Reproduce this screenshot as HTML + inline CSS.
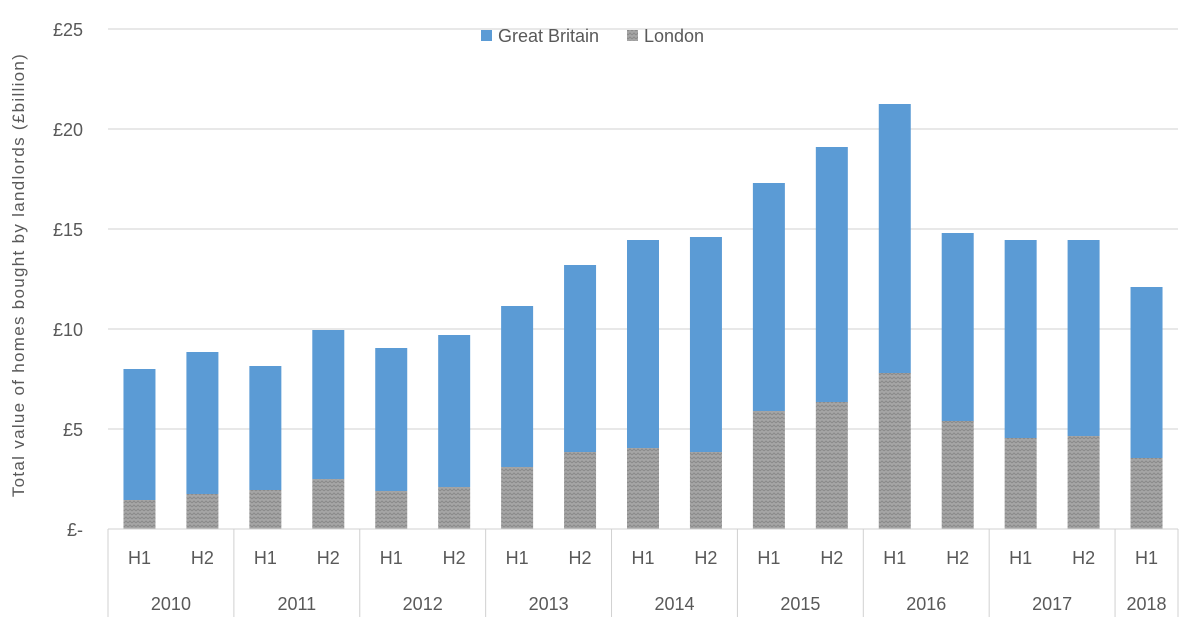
<!DOCTYPE html>
<html><head><meta charset="utf-8"><style>
body{margin:0;background:#fff;}
svg{display:block;font-family:"Liberation Sans",sans-serif;}
</style></head><body>
<svg id="c" width="1200" height="617"></svg>
<script>
const halves=["H1","H2","H1","H2","H1","H2","H1","H2","H1","H2","H1","H2","H1","H2","H1","H2","H1"];
const years=["2010","2011","2012","2013","2014","2015","2016","2017","2018"];
const totalGB=[8.0,8.85,8.15,9.95,9.05,9.7,11.15,13.2,14.45,14.6,17.3,19.1,21.25,14.8,14.45,14.45,12.1];
const london=[1.45,1.75,1.95,2.5,1.9,2.1,3.1,3.85,4.05,3.85,5.9,6.35,7.8,5.4,4.55,4.65,3.55];
const yTicks=[0,5,10,15,20,25];
const yTickLabels=["£-","£5","£10","£15","£20","£25"];
const NS="http://www.w3.org/2000/svg";
const svg=document.getElementById('c');
const X0=108,X1=1178,Y0=529,Y1=29,YMAX=25;
const n=halves.length,cw=(X1-X0)/n,bw=32;
const y=v=>Y0-(Y0-Y1)*v/YMAX;
const xc=i=>X0+cw*(i+0.5);
function el(t,a,txt){const e=document.createElementNS(NS,t);for(const k in a)e.setAttribute(k,a[k]);if(txt!==undefined)e.textContent=txt;svg.appendChild(e);return e;}
const defs=document.createElementNS(NS,'defs');
defs.innerHTML='<pattern id="pz" width="4" height="4" patternUnits="userSpaceOnUse"><rect width="4" height="4" fill="#a6a6a6"/><path d="M0 3L2 1L4 3" stroke="#8a8a8a" stroke-width="1" fill="none"/></pattern>';
svg.appendChild(defs);
yTicks.forEach((t,i)=>{
  if(t>0){const g=el('line',{x1:X0,x2:X1,y1:y(t),y2:y(t),stroke:'#d0d0d0','stroke-width':1});
  
  }
  const l=el('text',{x:83,y:y(t)+7,'text-anchor':'end','font-size':18,fill:'#595959'},yTickLabels[i]);
  
  
});
totalGB.forEach((v,i)=>{
  const b=el('rect',{x:xc(i)-bw/2,y:y(v),width:bw,height:y(london[i])-y(v),fill:'#5b9bd5'});
  
  
  const l=el('rect',{x:xc(i)-bw/2,y:y(london[i]),width:bw,height:Y0-y(london[i]),fill:'url(#pz)'});
  
  
  const h=el('text',{x:xc(i),y:564,'text-anchor':'middle','font-size':18,fill:'#595959'},halves[i]);
  
  
});
const ax=el('line',{x1:X0,x2:X1,y1:Y0,y2:Y0,stroke:'#d0d0d0','stroke-width':1});


years.forEach((yr,j)=>{
  const s=j*2,e=Math.min(s+2,n);
  const t=el('text',{x:(X0+cw*s+X0+cw*e)/2,y:610,'text-anchor':'middle','font-size':18,fill:'#595959'},yr);
  
  
});
for(let k=0;k<=n;k+=2){const xx=X0+cw*Math.min(k,n);
  const s=el('line',{x1:xx,x2:xx,y1:Y0,y2:617,stroke:'#d0d0d0','stroke-width':1});
  
  }
const r=el('line',{x1:X1,x2:X1,y1:Y0,y2:617,stroke:'#d0d0d0','stroke-width':1});


const yt=el('text',{x:0,y:0,'text-anchor':'middle','font-size':17,'letter-spacing':'1.3',fill:'#595959',transform:'translate(24,275) rotate(-90)'},'Total value of homes bought by landlords (£billion)');


const lg1=el('rect',{x:481,y:30,width:11,height:11,fill:'#5b9bd5'});


const lt1=el('text',{x:498,y:42,'font-size':18,fill:'#595959'},'Great Britain');


const lg2=el('rect',{x:627,y:30,width:11,height:11,fill:'url(#pz)'});


const lt2=el('text',{x:644,y:42,'font-size':18,fill:'#595959'},'London');


</script>
</body></html>
